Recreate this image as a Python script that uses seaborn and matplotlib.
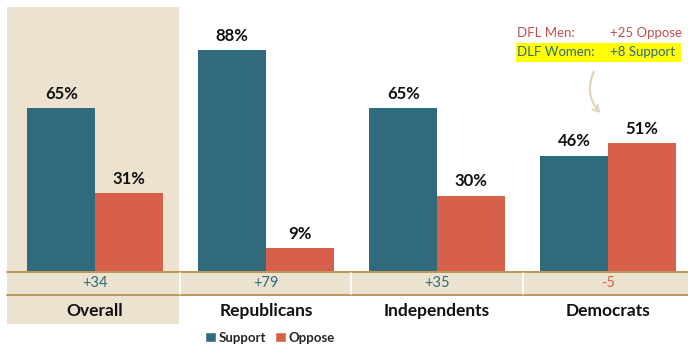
import matplotlib
matplotlib.use("Agg")
import matplotlib.pyplot as plt
from matplotlib.patches import Rectangle, Patch, FancyArrowPatch
from matplotlib.lines import Line2D
import seaborn as sns
import pandas as pd

# --- data ---
categories = ["Overall", "Republicans", "Independents", "Democrats"]
support = [65, 88, 65, 46]
oppose = [31, 9, 30, 51]
series_names = ["Support", "Oppose"]

SUPPORT_C = "#2F6B7D"
OPPOSE_C = "#D6604A"
BEIGE = "#EBE2CF"
GOLD = "#B8904C"

W, H = 688, 349
sns.set_theme(style="white")
plt.rcParams["font.family"] = ["Lato", "DejaVu Sans"]

fig = plt.figure(figsize=(W / 100, H / 100), dpi=100)


def fx(x):
    return x / W


def fy(y):
    return 1 - y / H


# plotting area: baseline at y=271px, group pitch 171px
left_px, right_px = 9.5, 688
base_px, top_px = 271, 7
px_per_unit_x = 171.0
px_per_pct = 2.51
ax = fig.add_axes([fx(left_px), fy(base_px), (right_px - left_px) / W, (base_px - top_px) / H])
ax.set_facecolor("none")

df = pd.DataFrame({
    "group": categories * 2,
    "series": [series_names[0]] * 4 + [series_names[1]] * 4,
    "value": support + oppose,
})
sns.barplot(data=df, x="group", y="value", hue="series", order=categories,
            hue_order=series_names, palette=[SUPPORT_C, OPPOSE_C], width=0.79,
            saturation=1, legend=False, ax=ax, edgecolor="none", zorder=3)
ax.set_xlim(-0.5, -0.5 + (right_px - left_px) / px_per_unit_x)
ax.set_ylim(0, (base_px - top_px) / px_per_pct)
ax.axis("off")

for cont in ax.containers:
    ax.bar_label(cont, fmt="%d%%", padding=4.5, fontsize=12, fontweight="bold",
                 color="#111111")

# shaded "Overall" column
fig.add_artist(Rectangle((fx(7), fy(324)), (179 - 7) / W, (324 - 7) / H,
                         facecolor=BEIGE, edgecolor="none", zorder=-2,
                         transform=fig.transFigure))
# net-difference strip
fig.add_artist(Rectangle((fx(7), fy(294)), (688 - 7) / W, (294 - 271) / H,
                         facecolor=BEIGE, edgecolor="none", zorder=-1,
                         transform=fig.transFigure))
for ypx in (271.5, 294.5):
    fig.add_artist(Line2D([fx(7), 1], [fy(ypx), fy(ypx)], color=GOLD, lw=1.3,
                          transform=fig.transFigure, zorder=5))
for xpx in (180, 351, 523):
    fig.add_artist(Line2D([fx(xpx), fx(xpx)], [fy(272.5), fy(293.5)], color="white",
                          lw=1.2, transform=fig.transFigure, zorder=5))

# net values and category names under each group
for i, cat in enumerate(categories):
    net = support[i] - oppose[i]
    xc = ax.transData.transform((i, 0))[0] / fig.dpi / fig.get_figwidth()
    fig.text(xc, fy(283), f"{net:+d}", ha="center", va="center", fontsize=10.5,
             color=SUPPORT_C if net > 0 else OPPOSE_C)
    fig.text(xc, fy(311), cat, ha="center", va="center", fontsize=12.5,
             fontweight="bold", color="#111111")

# legend
handles = [Patch(facecolor=SUPPORT_C, label=series_names[0]),
           Patch(facecolor=OPPOSE_C, label=series_names[1])]
fig.legend(handles=handles, loc="center", bbox_to_anchor=(fx(270), fy(338)), ncol=2,
           frameon=False, handlelength=0.8, handleheight=0.8, handletextpad=0.2,
           columnspacing=0.7, borderpad=0, prop={"weight": "bold", "size": 9.5})

# Democrat gender callout
fig.add_artist(Rectangle((fx(516), fy(62)), (681 - 516) / W, (62 - 43) / H,
                         facecolor="#FFFF00", edgecolor="none", zorder=1,
                         transform=fig.transFigure))
fig.text(fx(517), fy(33), "DFL Men:", ha="left", va="center", fontsize=9.5,
         color="#C0504D", zorder=2)
fig.text(fx(610), fy(33), "+25 Oppose", ha="left", va="center", fontsize=9.5,
         color="#C0504D", zorder=2)
fig.text(fx(517), fy(52), "DLF Women:", ha="left", va="center", fontsize=9.5,
         color="#2F6B7D", zorder=2)
fig.text(fx(610), fy(52), "+8 Support", ha="left", va="center", fontsize=9.5,
         color="#2F6B7D", zorder=2)
fig.add_artist(FancyArrowPatch(
    (fx(595), fy(69)), (fx(602), fy(115)), transform=fig.transFigure,
    connectionstyle="arc3,rad=0.35", arrowstyle="->,head_length=4,head_width=2.5",
    color="#E2D4BA", lw=1.6, zorder=2))

fig.savefig("out.png", dpi=100)
